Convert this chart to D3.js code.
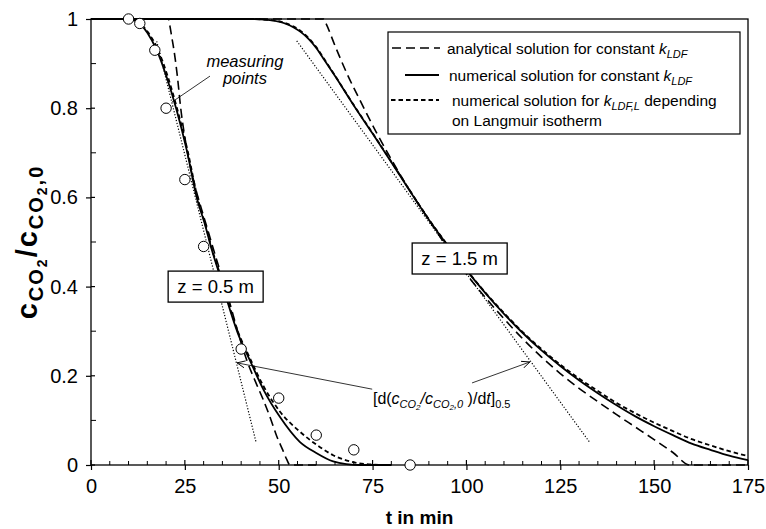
<!DOCTYPE html>
<html>
<head>
<meta charset="utf-8">
<script src="https://cdn.jsdelivr.net/npm/d3@7"></script>
<style>
  html, body { margin: 0; padding: 0; background: #fff; }
  svg { display: block; font-family: "Liberation Sans", Arial, sans-serif; }
</style>
</head>
<body>
<svg id="chart" width="766" height="529"></svg>
<script>
// ---------------- data ----------------
const xTicks = [0, 25, 50, 75, 100, 125, 150, 175];
const yTicks = [0, 0.2, 0.4, 0.6, 0.8, 1];
const yTickLabels = ["0", "0.2", "0.4", "0.6", "0.8", "1"];

// measuring points, z = 0.5 m
const measT = [10, 13, 17, 20, 25, 30, 40, 50, 60, 70, 85];
const measC = [1.0, 0.99, 0.93, 0.80, 0.64, 0.49, 0.26, 0.15, 0.067, 0.034, 0.0];

// z = 0.5 m
const anaT05 = [0, 20.6, 21.0, 21.5, 22.1, 23.0, 23.9, 25.5, 27.5, 29.5, 31.0, 32.5, 35.0, 37.0, 39.0, 41.5, 44.0, 45.9, 48.0, 49.4, 51.0, 52.1, 53.0, 60];
const anaC05 = [1, 1, 0.985, 0.96, 0.93, 0.872, 0.80, 0.71, 0.632, 0.572, 0.53, 0.487, 0.418, 0.362, 0.302, 0.235, 0.183, 0.146, 0.100, 0.066, 0.035, 0.013, 0, 0];
const numT05 = [0, 9, 11, 13, 15, 17.5, 20.1, 22.8, 25.5, 28.1, 30.5, 32.2, 34.5, 36.5, 39.0, 42.3, 46.0, 50.3, 55.6, 60.0, 64.5, 68, 72, 80];
const numC05 = [1, 1, 0.998, 0.99, 0.969, 0.93, 0.871, 0.796, 0.706, 0.602, 0.535, 0.482, 0.42, 0.362, 0.298, 0.235, 0.168, 0.108, 0.052, 0.027, 0.008, 0.002, 0, 0];
const lanT05 = [0, 9, 11, 13, 15.2, 17.8, 20.4, 23.0, 25.7, 28.3, 30.6, 32.3, 34.6, 36.6, 39.0, 42.2, 46.0, 50.3, 55.6, 61.0, 64.5, 70, 75, 80];
const lanC05 = [1, 1, 0.998, 0.99, 0.97, 0.932, 0.872, 0.797, 0.706, 0.602, 0.535, 0.482, 0.422, 0.364, 0.302, 0.242, 0.176, 0.12, 0.075, 0.04, 0.022, 0.006, 0.001, 0];
const tanT05 = [17.5, 44.0];
const tanC05 = [0.95, 0.05];

// z = 1.5 m
const anaT15 = [0, 62.0, 62.6, 65.0, 68.1, 72.0, 76.0, 80.0, 84.0, 88.0, 91.0, 95.0, 100.0, 105.0, 110.0, 115.0, 120.0, 125.0, 130.0, 135.0, 140.0, 145.0, 150.0, 155.0, 159.5, 175];
const anaC15 = [1, 1, 0.99, 0.94, 0.879, 0.812, 0.746, 0.685, 0.628, 0.575, 0.537, 0.486, 0.428, 0.376, 0.328, 0.283, 0.242, 0.205, 0.172, 0.142, 0.113, 0.085, 0.057, 0.028, 0, 0];
const numT15 = [0, 43, 47, 50, 52, 54, 56, 58, 60, 62, 65, 70, 75, 80, 87.6, 90, 95, 100, 105, 110, 115, 120, 125, 130, 135, 140, 145, 150, 155, 160, 165, 170, 175];
const numC15 = [1, 1, 0.998, 0.994, 0.989, 0.981, 0.97, 0.955, 0.935, 0.91, 0.872, 0.806, 0.743, 0.679, 0.58, 0.55, 0.492, 0.437, 0.386, 0.339, 0.296, 0.257, 0.222, 0.19, 0.161, 0.134, 0.109, 0.087, 0.067, 0.048, 0.034, 0.021, 0.011];
const lanT15 = [0, 43, 47, 50, 52, 54, 56, 58, 60, 62, 65, 70, 75, 80, 87.6, 90, 95, 100, 105, 110, 115, 120, 125, 130, 135, 140, 145, 150, 155, 160, 165, 170, 175];
const lanC15 = [1, 1, 0.998, 0.995, 0.99, 0.983, 0.972, 0.957, 0.937, 0.912, 0.873, 0.807, 0.744, 0.68, 0.581, 0.551, 0.493, 0.438, 0.387, 0.341, 0.298, 0.26, 0.225, 0.194, 0.166, 0.139, 0.116, 0.095, 0.076, 0.058, 0.044, 0.031, 0.02];
const tanT15 = [54.8, 132.9];
const tanC15 = [0.951, 0.05];

const legendLabels = ["analytical solution for constant ", "numerical solution for constant ", "numerical solution for ", "on Langmuir isotherm"];

// ---------------- layout ----------------
const svg = d3.select("#chart");
const L = 91, R = 748, T = 19, B = 465;
const x = d3.scaleLinear().domain([0, 175]).range([L, R]);
const y = d3.scaleLinear().domain([0, 1]).range([B, T]);

const zip = (a, b) => a.map((v, i) => [v, b[i]]);
const line = d3.line().x(d => x(d[0])).y(d => y(d[1])).curve(d3.curveMonotoneX);
const straight = d3.line().x(d => x(d[0])).y(d => y(d[1]));

const STYLE = {
  ana: { dash: "9,5", w: 1.6 },
  num: { dash: null, w: 1.8 },
  lan: { dash: "4.5,3", w: 1.8 },
  tan: { dash: "1.2,1.8", w: 1.2 }
};

const plot = svg.append("g");

function drawCurve(tArr, cArr, st, gen) {
  plot.append("path")
    .datum(zip(tArr, cArr))
    .attr("d", gen || line)
    .attr("fill", "none")
    .attr("stroke", "#000")
    .attr("stroke-width", st.w)
    .attr("stroke-dasharray", st.dash);
}

drawCurve(tanT05, tanC05, STYLE.tan, straight);
drawCurve(tanT15, tanC15, STYLE.tan, straight);
drawCurve(anaT05, anaC05, STYLE.ana);
drawCurve(anaT15, anaC15, STYLE.ana);
drawCurve(lanT05, lanC05, STYLE.lan);
drawCurve(lanT15, lanC15, STYLE.lan);
drawCurve(numT05, numC05, STYLE.num);
drawCurve(numT15, numC15, STYLE.num);

// ---------------- axes / frame ----------------
const xMinor = d3.range(5, 175, 5).filter(v => v % 25 !== 0);
const yMinor = [0.1, 0.3, 0.5, 0.7, 0.9];
svg.append("g").selectAll("line").data(xMinor).join("line")
  .attr("x1", d => x(d)).attr("x2", d => x(d))
  .attr("y1", B).attr("y2", B - 4)
  .attr("stroke", "#000").attr("stroke-width", 1);
svg.append("g").selectAll("line").data(yMinor).join("line")
  .attr("x1", L).attr("x2", L + 5)
  .attr("y1", d => y(d)).attr("y2", d => y(d))
  .attr("stroke", "#000").attr("stroke-width", 1);
svg.append("g").selectAll("line").data(xTicks).join("line")
  .attr("x1", d => x(d)).attr("x2", d => x(d))
  .attr("y1", B).attr("y2", B - 5)
  .attr("stroke", "#000").attr("stroke-width", 1.2);
svg.append("g").selectAll("line").data(yTicks).join("line")
  .attr("x1", L).attr("x2", L + 4)
  .attr("y1", d => y(d)).attr("y2", d => y(d))
  .attr("stroke", "#000").attr("stroke-width", 1.2);

const xAxis = svg.append("g").attr("transform", `translate(0,${B})`)
  .call(d3.axisBottom(x).tickValues(xTicks).tickSize(5).tickPadding(8).tickFormat(d3.format("d")));
const yAxis = svg.append("g").attr("transform", `translate(${L},0)`)
  .call(d3.axisLeft(y).tickValues(yTicks).tickSize(5).tickPadding(8).tickFormat((d, i) => yTickLabels[i]));
[xAxis, yAxis].forEach(g => {
  g.select(".domain").remove();
  g.selectAll(".tick line").attr("stroke", "#000").attr("stroke-width", 1.2);
  g.selectAll(".tick text").attr("fill", "#000")
    .style("font-family", "'Liberation Sans', Arial, sans-serif").style("font-size", "20px");
});
xAxis.selectAll(".tick text").attr("dy", "0.75em");

svg.append("rect")
  .attr("x", L).attr("y", T).attr("width", R - L).attr("height", B - T)
  .attr("fill", "none").attr("stroke", "#000").attr("stroke-width", 1.3);

svg.append("g").selectAll("circle").data(zip(measT, measC)).join("circle")
  .attr("cx", d => x(d[0])).attr("cy", d => y(d[1])).attr("r", 5.2)
  .attr("fill", "#fff").attr("stroke", "#000").attr("stroke-width", 1);

// ---------------- axis titles ----------------
svg.append("text")
  .attr("x", (L + R) / 2).attr("y", 524)
  .attr("text-anchor", "middle")
  .style("font-size", "19px").style("font-weight", "bold")
  .text("t in min");

const yt = svg.append("text")
  .attr("transform", `translate(37,242) rotate(-90)`)
  .attr("text-anchor", "middle")
  .style("font-weight", "bold")
  .style("letter-spacing", "2px");
yt.append("tspan").style("font-size", "29px").text("c");
yt.append("tspan").style("font-size", "20px").attr("dy", 6).text("CO");
yt.append("tspan").style("font-size", "14px").attr("dy", 4).text("2");
yt.append("tspan").style("font-size", "29px").attr("dy", -10).text("/c");
yt.append("tspan").style("font-size", "20px").attr("dy", 6).text("CO");
yt.append("tspan").style("font-size", "14px").attr("dy", 4).text("2");
yt.append("tspan").style("font-size", "20px").attr("dy", -4).text(",0");

// ---------------- legend ----------------
const lg = svg.append("g");
lg.append("rect").attr("x", 388).attr("y", 32).attr("width", 352).attr("height", 102)
  .attr("fill", "#fff").attr("stroke", "#000").attr("stroke-width", 1.2);
const legRows = [
  { st: STYLE.ana, x1: 392, x2: 440, y: 48 },
  { st: STYLE.num, x1: 405, x2: 439, y: 75 },
  { st: STYLE.lan, x1: 391, x2: 439, y: 100 }
];
legRows.forEach(r => {
  lg.append("line").attr("x1", r.x1).attr("x2", r.x2).attr("y1", r.y).attr("y2", r.y)
    .attr("stroke", "#000").attr("stroke-width", r.st.w).attr("stroke-dasharray", r.st.dash);
});
function legText(xp, yp, main, sub) {
  const t = lg.append("text").attr("x", xp).attr("y", yp).style("font-size", "15.5px");
  t.append("tspan").text(main);
  if (sub) {
    t.append("tspan").style("font-style", "italic").text("k");
    t.append("tspan").style("font-style", "italic").style("font-size", "11px").attr("dy", 4).text(sub);
  }
  return t;
}
legText(447, 54, legendLabels[0], "LDF");
legText(449, 81, legendLabels[1], "LDF");
const t3 = legText(452, 106, legendLabels[2], "LDF,L");
t3.append("tspan").attr("dy", -4).text(" depending");
legText(452, 126, legendLabels[3], null);

// ---------------- annotations ----------------
function boxLabel(tc, cc, txt) {
  const cx = x(tc), cy = y(cc);
  svg.append("rect").attr("x", cx - 47.5).attr("y", cy - 15.5).attr("width", 95).attr("height", 31)
    .attr("fill", "#fff").attr("stroke", "#000").attr("stroke-width", 1.3);
  svg.append("text").attr("x", cx).attr("y", cy + 6.5).attr("text-anchor", "middle")
    .style("font-size", "18.5px").text(txt);
}
boxLabel(33.2, 0.40, "z = 0.5 m");
boxLabel(98.2, 0.463, "z = 1.5 m");

svg.append("text").attr("x", x(41)).attr("y", y(0.892)).attr("text-anchor", "middle")
  .style("font-size", "16.5px").style("font-style", "italic").text("measuring");
svg.append("text").attr("x", x(41)).attr("y", y(0.854)).attr("text-anchor", "middle")
  .style("font-size", "16.5px").style("font-style", "italic").text("points");
svg.append("line").attr("x1", x(31.7)).attr("y1", y(0.872)).attr("x2", x(21.6)).attr("y2", y(0.814))
  .attr("stroke", "#000").attr("stroke-width", 0.8);

const defs = svg.append("defs");
defs.append("marker").attr("id", "arr").attr("viewBox", "0 0 10 10")
  .attr("refX", 9).attr("refY", 5).attr("markerWidth", 9).attr("markerHeight", 9)
  .attr("markerUnits", "userSpaceOnUse").attr("orient", "auto")
  .append("path").attr("d", "M0,1 L9,5 L0,9").attr("fill", "none").attr("stroke", "#000").attr("stroke-width", 1);
svg.append("line").attr("x1", x(74.9)).attr("y1", y(0.17)).attr("x2", x(38.9)).attr("y2", y(0.229))
  .attr("stroke", "#000").attr("stroke-width", 0.8).attr("marker-end", "url(#arr)");
svg.append("line").attr("x1", x(101.5)).attr("y1", y(0.184)).attr("x2", x(116.9)).attr("y2", y(0.231))
  .attr("stroke", "#000").attr("stroke-width", 0.8).attr("marker-end", "url(#arr)");

const an = svg.append("text").attr("x", x(75.1)).attr("y", y(0.136)).style("font-size", "16px");
an.append("tspan").text("[d(");
an.append("tspan").style("font-style", "italic").text("c");
an.append("tspan").style("font-style", "italic").style("font-size", "11px").attr("dy", 4).text("CO");
an.append("tspan").style("font-style", "italic").style("font-size", "8px").attr("dy", 2).text("2");
an.append("tspan").style("font-style", "italic").attr("dy", -6).text("/c");
an.append("tspan").style("font-style", "italic").style("font-size", "11px").attr("dy", 4).text("CO");
an.append("tspan").style("font-style", "italic").style("font-size", "8px").attr("dy", 2).text("2");
an.append("tspan").style("font-style", "italic").style("font-size", "11px").attr("dy", -2).text(",0");
an.append("tspan").attr("dy", -4).text(" )/d");
an.append("tspan").style("font-style", "italic").text("t");
an.append("tspan").text("]");
an.append("tspan").style("font-size", "11px").attr("dy", 4).text("0.5");
</script>
</body>
</html>
